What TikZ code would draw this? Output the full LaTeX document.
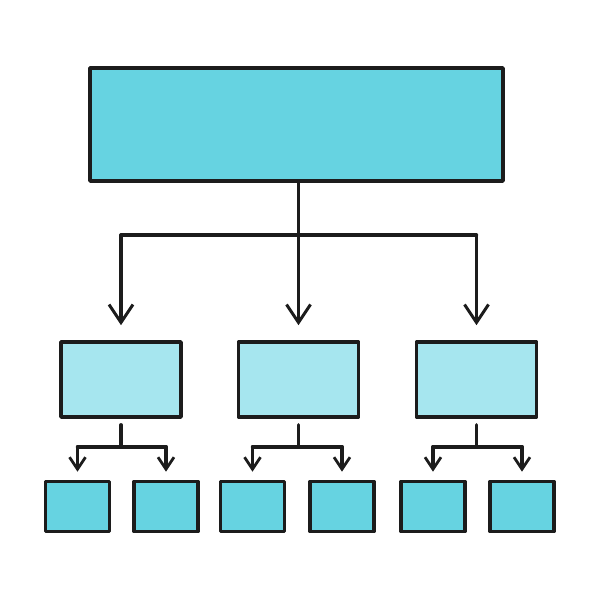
\documentclass[tikz,border=0pt]{standalone}
\usetikzlibrary{arrows.meta}
\definecolor{boxdark}{HTML}{66D3E1}
\definecolor{boxlight}{HTML}{A6E6EF}
\definecolor{ink}{HTML}{1C1C1C}
\begin{document}
\begin{tikzpicture}[x=1pt,y=-1pt,
  box/.style={draw=ink,line width=3.6pt,inner sep=0pt,line join=round},
  bigbox/.style={box,fill=boxdark,minimum width=413pt,minimum height=113pt},
  midbox/.style={box,fill=boxlight,minimum width=120pt,minimum height=75pt},
  smallbox/.style={box,fill=boxdark,minimum width=64pt,minimum height=50pt},
  link/.style={draw=ink,line width=3.4pt,line cap=round,line join=round},
  arrowlink/.style={link,-{Straight Barb[length=18pt,width=24pt,line width=3pt]}},
  smallarrow/.style={link,-{Straight Barb[length=12pt,width=16pt,line width=2.8pt]}}
]
\useasboundingbox (0,0) rectangle (600,600);
\fill[white] (0,0) rectangle (600,600);
% boxes
\node[bigbox] (top) at (296.5,124.5) {};
\node[midbox] (m1) at (121,379.5) {};
\node[midbox] (m2) at (298.5,379.5) {};
\node[midbox] (m3) at (476.5,379.5) {};
\node[smallbox] (s11) at (77.5,506.5) {};
\node[smallbox] (s12) at (166,506.5) {};
\node[smallbox] (s21) at (252.5,506.5) {};
\node[smallbox] (s22) at (342,506.5) {};
\node[smallbox] (s31) at (433,506.5) {};
\node[smallbox] (s32) at (522,506.5) {};
% top level connectors
\coordinate (b1) at (m1.north |- 0,235);
\coordinate (b3) at (m3.north |- 0,235);
\draw[link] (b1) -- (b3);
\draw[arrowlink,shorten >=15pt] (m2.north |- top.south) -- (m2.north);
\draw[arrowlink,shorten >=15pt] (b1) -- (m1.north);
\draw[arrowlink,shorten >=15pt] (b3) -- (m3.north);
% second level connectors
\foreach \m/\a/\b in {m1/s11/s12, m2/s21/s22, m3/s31/s32}{
  \coordinate (j\m) at ([yshift=-28pt]\m.south);
  \coordinate (l\m) at (\a.north |- j\m);
  \coordinate (r\m) at (\b.north |- j\m);
  \draw[link] ([yshift=-6pt]\m.south) -- (j\m);
  \draw[link] (l\m) -- (r\m);
  \draw[smallarrow,shorten >=8pt] (l\m) -- (\a.north);
  \draw[smallarrow,shorten >=8pt] (r\m) -- (\b.north);
}
\end{tikzpicture}
\end{document}
